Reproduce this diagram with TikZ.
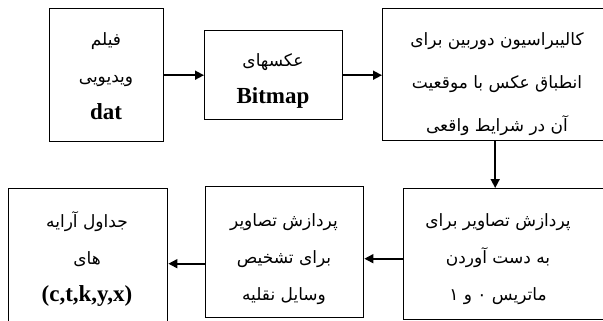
\documentclass[tikz,border=0pt]{standalone}
\usepackage{fontspec}
\setmainfont{Liberation Serif}
\newfontfamily\fa[Script=Arabic]{DejaVu Sans}
\TeXXeTstate=1
\usetikzlibrary{arrows.meta}
\newcommand{\rl}[1]{\beginR #1\endR}
\newcommand{\lb}[1]{{\normalfont\bfseries\fontsize{23}{38}\selectfont #1}}
\begin{document}
\begin{tikzpicture}[x=1pt,y=-1pt,
  box/.style={draw, line width=1.4pt, anchor=north west, inner sep=0pt},
  txt/.style={align=center, inner sep=0pt, font=\fa\fontsize{17}{37}\selectfont},
  arr/.style={line width=1.6pt, -{Triangle[length=9pt,width=9pt]}}]
\useasboundingbox (0,0) rectangle (603,321);
\clip (0,0) rectangle (603,321);
\node[box, minimum width=114pt, minimum height=133pt] (b1) at (49,8) {};
\node[box, minimum width=138pt, minimum height=89pt] (b2) at (204,30) {};
\node[box, minimum width=225pt, minimum height=132pt] (b3) at (382,8) {};
\node[box, minimum width=205pt, minimum height=131pt] (b6) at (403,188) {};
\node[box, minimum width=158pt, minimum height=131pt] (b5) at (205,186) {};
\node[box, minimum width=159pt, minimum height=140pt] (b4) at (8,188) {};

\node[txt] (t1) at (106,76) {\rl{فیلم}\\ \rl{ویدیویی}\\ \lb{dat}};
\node[txt] (t2) at (273,81) {\rl{عکسهای}\\ \lb{Bitmap}};
\node[txt, font=\fa\fontsize{17}{43}\selectfont] (t3) at (497,84) {\rl{کالیبراسیون دوربین برای}\\ \rl{انطباق عکس با موقعیت}\\ \rl{آن در شرایط واقعی}};
\node[txt] (t6) at (498,259) {\rl{پردازش تصاویر برای}\\ \rl{به دست آوردن}\\ \rl{ماتریس ۰ و ۱}};
\node[txt] (t5) at (284,259) {\rl{پردازش تصاویر}\\ \rl{برای تشخیص}\\ \rl{وسایل نقلیه}};
\node[txt] (t4) at (87,259) {\rl{جداول آرایه}\\ \rl{های}\\ \lb{(c,t,k,y,x)}};

\draw[arr] (b1.east) -- (b2.west);
\draw[arr] (b2.east) -- (b2.east -| b3.west);
\draw[arr] (b3.south) -- (b3.south |- b6.north);
\draw[arr] ([yshift=-4.5pt]b6.west) -- ([yshift=-4.5pt]b6.west -| b5.east);
\draw[arr] ([yshift=-11.5pt]b5.west) -- ([yshift=-11.5pt]b5.west -| b4.east);
\end{tikzpicture}
\end{document}
